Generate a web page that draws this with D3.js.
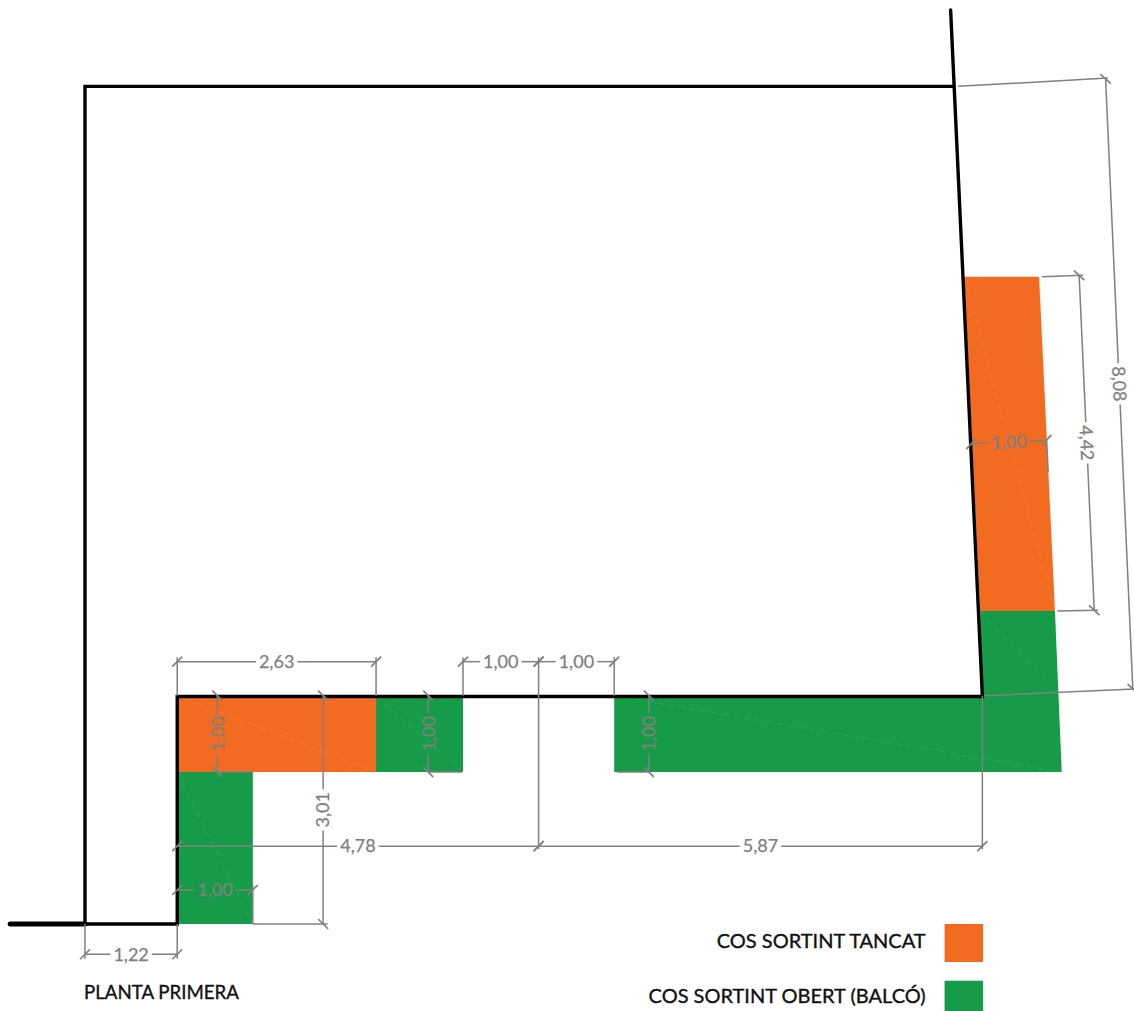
<!DOCTYPE html>
<html>
<head>
<meta charset="utf-8">
<script src="https://cdn.jsdelivr.net/npm/d3@7"></script>
<style>
  html, body { margin: 0; padding: 0; background: #fff; }
  svg { display: block; }
  text { font-family: Lato, "Noto Sans", sans-serif; }
</style>
</head>
<body>
<div id="plan"></div>
<script>
// all plan values are in metres, measured from the foot of the left wall

var legendNames = ["COS SORTINT TANCAT", "COS SORTINT OBERT (BALCÓ)"];
var planTitle = "PLANTA PRIMERA";

// built outline
var streetLine = [[-0.99, 0], [0, 0]];
var wallOutline = [[0, 0], [0, 11.08], [11.49, 11.08]];
var sideWall = [[11.45, 12.09], [11.87, 3.01], [1.22, 3.01], [1.22, 0], [0, 0]];

// projecting bodies
var closedAreas = [
  [[1.22, 3.02], [3.85, 3.02], [3.85, 2.01], [1.22, 2.01]],
  [[11.63, 8.56], [12.62, 8.56], [12.83, 4.14], [11.84, 4.14]]
];
var openAreas = [
  [[3.85, 3.02], [5.00, 3.02], [5.00, 2.01], [3.85, 2.01]],
  [[1.22, 2.01], [2.22, 2.01], [2.22, 0], [1.22, 0]],
  [[7.00, 3.02], [11.87, 3.02], [11.84, 4.14], [12.83, 4.14], [12.92, 2.01], [7.00, 2.01]]
];
// faint seams left by the triangulated fills
var seams = [
  [[1.22, 3.02], [3.85, 2.01]],
  [[3.85, 3.02], [5.00, 2.01]],
  [[1.22, 2.01], [2.22, 0]],
  [[11.63, 8.56], [12.83, 4.14]],
  [[11.84, 4.14], [12.83, 3.10]],
  [[7.00, 3.02], [12.92, 2.01]]
];

// measured dimensions: start, end, label
var dimStarts = [
  [1.22, 3.47], [5.00, 3.47], [6.00, 3.47],
  [1.75, 2.01], [3.15, 0], [4.54, 2.01], [7.46, 2.01],
  [1.22, 1.03], [6.00, 1.03], [1.22, 0.45], [0, -0.40],
  [13.50, 11.18], [13.15, 8.58], [11.72, 6.35]
];
var dimEnds = [
  [3.85, 3.47], [6.00, 3.47], [7.00, 3.47],
  [1.75, 3.02], [3.15, 3.02], [4.54, 3.02], [7.46, 3.02],
  [6.00, 1.03], [11.87, 1.03], [2.22, 0.45], [1.22, -0.40],
  [13.86, 3.11], [13.35, 4.15], [12.72, 6.40]
];
var dimLabels = [
  "2,63", "1,00", "1,00",
  "1,00", "3,01", "1,00", "1,00",
  "4,78", "5,87", "1,00", "1,22",
  "8,08", "4,42", "1,00"
];
// extension lines that carry the measures out to the plan
var extensions = [
  [[1.22, 3.02], [1.22, 3.53]], [[3.85, 3.02], [3.85, 3.53]], [[5.00, 3.02], [5.00, 3.53]],
  [[6.00, 0.99], [6.00, 3.53]], [[7.00, 3.02], [7.00, 3.53]], [[11.87, 3.02], [11.87, 0.99]],
  [[2.22, 0], [2.22, 0.52]], [[0, 0], [0, -0.46]], [[1.22, 0], [1.22, -0.46]],
  [[1.75, 2.01], [2.18, 2.01]], [[4.56, 2.01], [4.99, 2.01]], [[7.04, 2.01], [7.47, 2.01]],
  [[2.22, 0], [3.21, 0]],
  [[11.55, 11.08], [13.53, 11.19]], [[11.90, 3.02], [13.88, 3.11]],
  [[12.66, 8.56], [13.20, 8.58]], [[12.86, 4.14], [13.40, 4.15]],
  [[12.72, 6.40], [12.74, 5.98]]
];

var width = 1134;
var height = 1011;

var closedColor = "#f36b21";
var openColor = "#169b48";
var dimColor = "#808080";

var x = d3.scaleLinear().domain([0, 15]).range([85, 85 + 15 * 75.6]);
var y = d3.scaleLinear().domain([0, 13]).range([924, 924 - 13 * 75.6]);

var svg = d3
    .select("#plan")
    .append("svg")
    .attr("width", width)
    .attr("height", height);

svg.append("rect")
    .attr("width", width)
    .attr("height", height)
    .attr("fill", "#fff");

var planLine = d3.line()
    .x(function(d) { return x(d[0]); })
    .y(function(d) { return y(d[1]); });

function areaGroup(areas, color) {
    svg.append("g")
        .selectAll("path")
        .data(areas)
        .enter()
        .append("path")
        .attr("d", function(d) { return planLine(d) + "Z"; })
        .attr("fill", color);
}
areaGroup(closedAreas, closedColor);
areaGroup(openAreas, openColor);

svg.append("g")
    .selectAll("path")
    .data(seams)
    .enter()
    .append("path")
    .attr("d", planLine)
    .attr("stroke", "#fff")
    .attr("stroke-opacity", 0.1)
    .attr("stroke-width", 1)
    .attr("stroke-dasharray", "6 5");

// Walls
svg.append("path")
    .attr("d", planLine(streetLine))
    .attr("fill", "none")
    .attr("stroke", "#000")
    .attr("stroke-width", 5)
    .attr("stroke-linecap", "round");

[wallOutline, sideWall].forEach(function(wall) {
    svg.append("path")
        .attr("d", planLine(wall))
        .attr("fill", "none")
        .attr("stroke", "#000")
        .attr("stroke-width", 3.4)
        .attr("stroke-linejoin", "miter")
        .attr("stroke-linecap", "round");
});

// Extension lines
svg.append("g")
    .selectAll("path")
    .data(extensions)
    .enter()
    .append("path")
    .attr("d", planLine)
    .attr("stroke", dimColor)
    .attr("stroke-width", 1.5);

// Dimensions: the line is broken around its label
var dims = d3.range(dimLabels.length).map(function(i) {
    return { a: dimStarts[i], b: dimEnds[i], label: dimLabels[i] };
});

var dimG = svg.append("g")
    .selectAll("g")
    .data(dims)
    .enter()
    .append("g")
    .attr("transform", function(d) {
        var ax = x(d.a[0]), ay = y(d.a[1]);
        var ang = Math.atan2(y(d.b[1]) - ay, x(d.b[0]) - ax) * 180 / Math.PI;
        return "translate(" + ax + "," + ay + ")rotate(" + ang + ")";
    });

function dimLength(d) {
    return Math.hypot(x(d.b[0]) - x(d.a[0]), y(d.b[1]) - y(d.a[1]));
}

dimG.append("text")
    .attr("x", function(d) { return dimLength(d) / 2; })
    .attr("y", 0)
    .attr("dy", "0.35em")
    .attr("text-anchor", "middle")
    .attr("font-size", 18)
    .attr("fill", dimColor)
    .attr("stroke", dimColor)
    .attr("stroke-width", 0.25)
    .text(function(d) { return d.label; });

dimG.each(function(d) {
    var g = d3.select(this);
    var len = dimLength(d);
    var half = g.select("text").node().getComputedTextLength() / 2 + 3;
    var parts = [[0, len / 2 - half], [len / 2 + half, len]];
    parts.forEach(function(p) {
        g.append("line")
            .attr("x1", p[0]).attr("x2", p[1])
            .attr("stroke", dimColor)
            .attr("stroke-width", 1.5);
    });
    [0, len].forEach(function(p) {
        g.append("line")
            .attr("x1", p - 5).attr("y1", 5)
            .attr("x2", p + 5).attr("y2", -5)
            .attr("stroke", dimColor)
            .attr("stroke-width", 1.7);
    });
});

// Title and legend
svg.append("text")
    .attr("x", x(0) - 1)
    .attr("y", y(-0.99))
    .attr("font-size", 18.7)
    .attr("fill", "#111")
    .attr("stroke", "#111")
    .attr("stroke-width", 0.35)
    .text(planTitle);

var legendColors = [closedColor, openColor];
var legendRows = [-0.32, -1.05];

var legend = svg.append("g")
    .selectAll("g")
    .data(legendNames)
    .enter()
    .append("g");

legend.append("rect")
    .attr("x", x(11.37))
    .attr("y", function(d, i) { return y(i === 0 ? 0 : -0.75); })
    .attr("width", 38.5)
    .attr("height", 38)
    .attr("fill", function(d, i) { return legendColors[i]; });

legend.append("text")
    .attr("x", x(11.12))
    .attr("y", function(d, i) { return y(legendRows[i]); })
    .attr("text-anchor", "end")
    .attr("font-size", 20)
    .attr("fill", "#111")
    .attr("stroke", "#111")
    .attr("stroke-width", 0.35)
    .text(function(d) { return d; });
</script>
</body>
</html>
